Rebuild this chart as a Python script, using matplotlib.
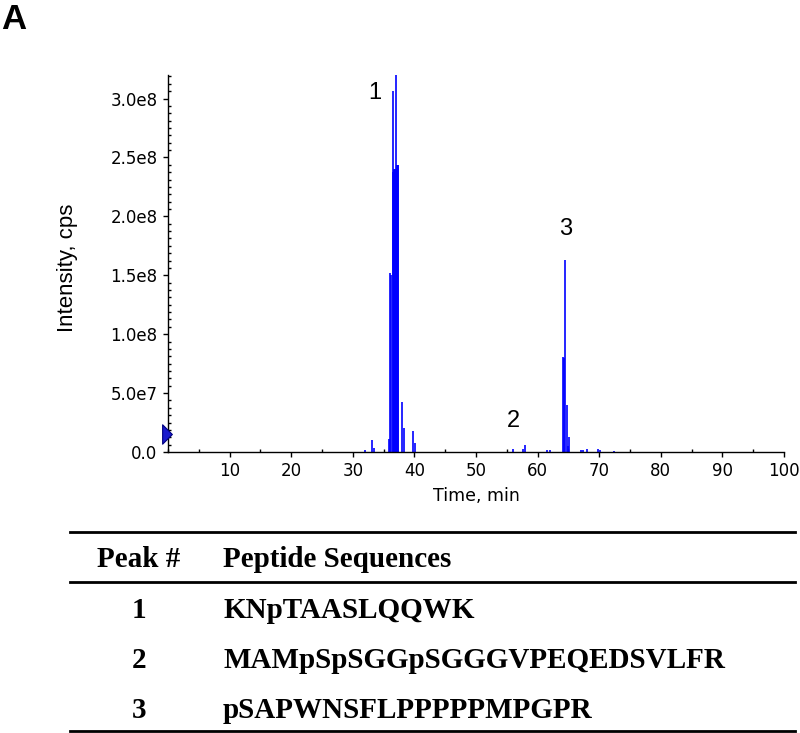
import numpy as np
import matplotlib.pyplot as plt
from matplotlib.path import Path
from matplotlib.ticker import MultipleLocator, FixedLocator

# centroided scans (time in min, intensity in cps)
scan_time = [31.96, 33.14, 33.46, 35.80,
             36.05, 36.15, 36.47, 36.56, 36.64, 36.72, 36.80, 36.88, 36.96,
             37.06, 37.14, 37.22, 37.30, 37.36,
             37.99, 38.26, 39.77, 40.10,
             56.05, 57.60, 57.90, 61.50, 62.00,
             64.10, 64.22, 64.49, 64.76, 64.90, 65.08,
             67.00, 67.30, 68.10, 69.80, 70.10, 72.40]
scan_int = [1.4e6, 1.0e7, 3.4e6, 1.1e7,
            1.52e8, 1.50e8, 3.06e8, 2.38e8, 2.40e8, 2.39e8, 2.40e8, 1.45e8, 2.40e8,
            3.20e8, 2.42e8, 2.44e8, 2.44e8, 2.44e8,
            4.25e7, 2.04e7, 1.76e7, 7.6e6,
            2.8e6, 2.8e6, 6.2e6, 1.8e6, 1.8e6,
            8.07e7, 8.0e7, 1.63e8, 3.97e7, 5.0e6, 1.27e7,
            1.5e6, 1.5e6, 2.5e6, 2.2e6, 1.5e6, 1.0e6]

peak_num = ['1', '2', '3']
peak_lbl_time = [33.6, 56.1, 64.6]
peak_lbl_int = [3.05e8, 2.63e7, 1.895e8]
sequences = ['KNpTAASLQQWK', 'MAMpSpSGGpSGGGVPEQEDSVLFR', 'pSAPWNSFLPPPPPMPGPR']

xticks = [10, 20, 30, 40, 50, 60, 70, 80, 90, 100]
yticks = [0, 5e7, 1e8, 1.5e8, 2e8, 2.5e8, 3e8]
ytick_labels = ['0.0', '5.0e7', '1.0e8', '1.5e8', '2.0e8', '2.5e8', '3.0e8']
marker_int = 1.57e7

W, H = 800, 733
fig = plt.figure(figsize=(8, 7.33), dpi=100)
ax = fig.add_axes([168 / W, 1 - 452 / H, 616 / W, 377 / H])

ax.vlines(scan_time, 0, scan_int, color='#0000ff', lw=1.2)
ax.set_xlim(0, 100)
ax.set_ylim(0, 3.2e8)

for s in ['top', 'right']:
    ax.spines[s].set_visible(False)
for s in ['left', 'bottom']:
    ax.spines[s].set_linewidth(1.0)

ax.xaxis.set_major_locator(FixedLocator(xticks))
ax.xaxis.set_minor_locator(MultipleLocator(5))
ax.yaxis.set_major_locator(FixedLocator(yticks))
ax.yaxis.set_minor_locator(MultipleLocator(6.25e6))
ax.set_yticklabels(ytick_labels)
ax.tick_params(which='major', direction='out', length=3.5, width=1, labelsize=12, pad=4)
ax.tick_params(which='minor', direction='in', length=2, width=1)
for t in ax.get_xticklabels() + ax.get_yticklabels():
    t.set_fontfamily('DejaVu Sans')

# little triangle on the y axis
tri = Path([(-0.5, 1), (0.5, 0), (-0.5, -1), (-0.5, 1)],
           [Path.MOVETO, Path.LINETO, Path.LINETO, Path.CLOSEPOLY])
ax.plot([-0.2], [marker_int], marker=tri, ms=14, mfc='#1a1acc', mec='#000080',
        mew=0.8, clip_on=False, zorder=5)

for n, x, y in zip(peak_num, peak_lbl_time, peak_lbl_int):
    ax.text(x, y, n, ha='center', va='center', fontsize=17, family='Liberation Sans')

fig.text(67 / W, 1 - 268 / H, 'Intensity, cps', rotation=90, ha='center', va='center',
         fontsize=16, family='Liberation Sans')
fig.text(476 / W, 1 - 496 / H, 'Time, min', ha='center', va='center',
         fontsize=12.5, family='DejaVu Sans')

fig.text(1 / W, 1 - 29 / H, 'A', ha='left', va='baseline', fontsize=25,
         fontweight='bold', family='Liberation Sans')

# table under the chart
for yl in [532, 581.5, 731]:
    fig.add_artist(plt.Line2D([70 / W, 795 / W], [1 - yl / H, 1 - yl / H],
                              color='black', lw=2))
tf = dict(fontsize=21, fontweight='bold', family='Liberation Serif', va='baseline')
fig.text(139 / W, 1 - 567 / H, 'Peak #', ha='center', **tf)
fig.text(223 / W, 1 - 567 / H, 'Peptide Sequences', ha='left', **tf)
for i, (n, seq) in enumerate(zip(peak_num, sequences)):
    yb = 618 + 50 * i
    fig.text(139 / W, 1 - yb / H, n, ha='center', **tf)
    fig.text(223 / W, 1 - yb / H, seq, ha='left', **tf)

fig.savefig('out.png', dpi=100)
